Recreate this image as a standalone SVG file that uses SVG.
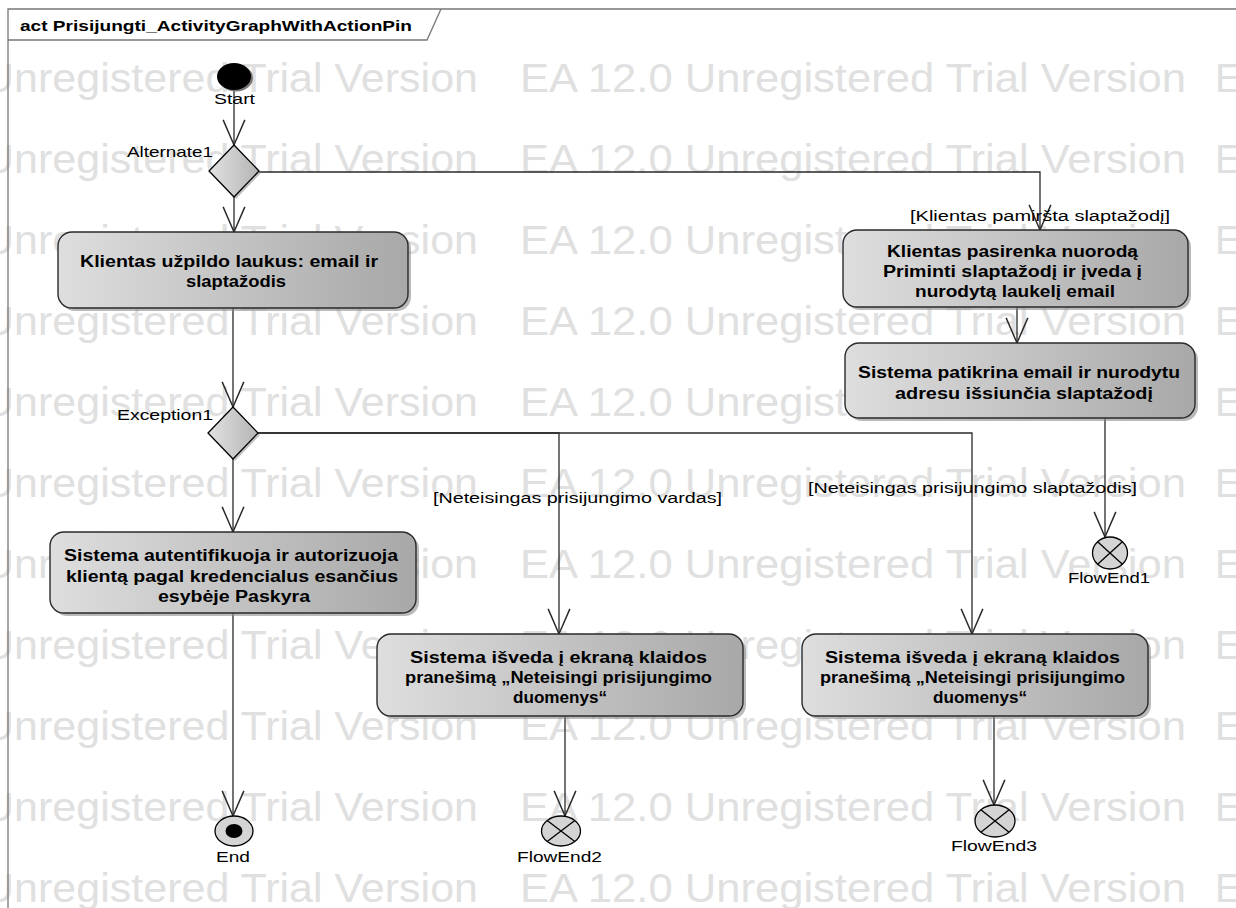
<svg xmlns="http://www.w3.org/2000/svg" width="1236" height="908" viewBox="0 0 1236 908">
<style>
.wm{font-family:"Liberation Sans",Arial,sans-serif;font-size:40px;fill:#e0e0e0}
.nt{font-family:"Liberation Sans",Arial,sans-serif;font-size:16px;font-weight:bold;fill:#000}
.lb{font-family:"Liberation Sans",Arial,sans-serif;font-size:14.5px;fill:#000}
.gd{font-family:"Liberation Sans",Arial,sans-serif;font-size:14px;fill:#000}
.box{fill:url(#g);stroke:#2a2a2a;stroke-width:1.4}
.sh{fill:#8c8c8c;opacity:0.6}
.dia{fill:url(#gd);stroke:#000;stroke-width:1.3}
.fe{fill:#d4d4d4;stroke:#000;stroke-width:1.3}
.cx{stroke:#000;stroke-width:1.3}
.cn{fill:none;stroke:#2a2a2a;stroke-width:1.3;marker-end:url(#ar)}
</style>
<defs>
<linearGradient id="g" x1="0" y1="0" x2="1" y2="0"><stop offset="0" stop-color="#dedede"/><stop offset="1" stop-color="#a8a8a8"/></linearGradient>
<linearGradient id="gd" x1="0" y1="0" x2="1" y2="0"><stop offset="0" stop-color="#e2e2e2"/><stop offset="1" stop-color="#b4b4b4"/></linearGradient>
<marker id="ar" markerUnits="userSpaceOnUse" markerWidth="40" markerHeight="40" refX="0" refY="0" orient="auto" viewBox="-30 -15 35 30" overflow="visible"><path d="M-22,-9.5 L0,0 L-22,9.5" fill="none" stroke="#2a2a2a" stroke-width="1.3"/></marker>
</defs>
<rect x="0" y="0" width="1236" height="908" fill="#fff"/>
<g id="watermark">
<text class="wm" x="-17" y="92" textLength="495" lengthAdjust="spacingAndGlyphs">Unregistered Trial Version</text><text class="wm" x="520" y="92" textLength="666" lengthAdjust="spacingAndGlyphs">EA 12.0 Unregistered Trial Version</text><text class="wm" x="1215" y="92">E</text>
<text class="wm" x="-17" y="173" textLength="495" lengthAdjust="spacingAndGlyphs">Unregistered Trial Version</text><text class="wm" x="520" y="173" textLength="666" lengthAdjust="spacingAndGlyphs">EA 12.0 Unregistered Trial Version</text><text class="wm" x="1215" y="173">E</text>
<text class="wm" x="-17" y="254" textLength="495" lengthAdjust="spacingAndGlyphs">Unregistered Trial Version</text><text class="wm" x="520" y="254" textLength="666" lengthAdjust="spacingAndGlyphs">EA 12.0 Unregistered Trial Version</text><text class="wm" x="1215" y="254">E</text>
<text class="wm" x="-17" y="335" textLength="495" lengthAdjust="spacingAndGlyphs">Unregistered Trial Version</text><text class="wm" x="520" y="335" textLength="666" lengthAdjust="spacingAndGlyphs">EA 12.0 Unregistered Trial Version</text><text class="wm" x="1215" y="335">E</text>
<text class="wm" x="-17" y="416" textLength="495" lengthAdjust="spacingAndGlyphs">Unregistered Trial Version</text><text class="wm" x="520" y="416" textLength="666" lengthAdjust="spacingAndGlyphs">EA 12.0 Unregistered Trial Version</text><text class="wm" x="1215" y="416">E</text>
<text class="wm" x="-17" y="497" textLength="495" lengthAdjust="spacingAndGlyphs">Unregistered Trial Version</text><text class="wm" x="520" y="497" textLength="666" lengthAdjust="spacingAndGlyphs">EA 12.0 Unregistered Trial Version</text><text class="wm" x="1215" y="497">E</text>
<text class="wm" x="-17" y="578" textLength="495" lengthAdjust="spacingAndGlyphs">Unregistered Trial Version</text><text class="wm" x="520" y="578" textLength="666" lengthAdjust="spacingAndGlyphs">EA 12.0 Unregistered Trial Version</text><text class="wm" x="1215" y="578">E</text>
<text class="wm" x="-17" y="659" textLength="495" lengthAdjust="spacingAndGlyphs">Unregistered Trial Version</text><text class="wm" x="520" y="659" textLength="666" lengthAdjust="spacingAndGlyphs">EA 12.0 Unregistered Trial Version</text><text class="wm" x="1215" y="659">E</text>
<text class="wm" x="-17" y="740" textLength="495" lengthAdjust="spacingAndGlyphs">Unregistered Trial Version</text><text class="wm" x="520" y="740" textLength="666" lengthAdjust="spacingAndGlyphs">EA 12.0 Unregistered Trial Version</text><text class="wm" x="1215" y="740">E</text>
<text class="wm" x="-17" y="821" textLength="495" lengthAdjust="spacingAndGlyphs">Unregistered Trial Version</text><text class="wm" x="520" y="821" textLength="666" lengthAdjust="spacingAndGlyphs">EA 12.0 Unregistered Trial Version</text><text class="wm" x="1215" y="821">E</text>
<text class="wm" x="-17" y="902" textLength="495" lengthAdjust="spacingAndGlyphs">Unregistered Trial Version</text><text class="wm" x="520" y="902" textLength="666" lengthAdjust="spacingAndGlyphs">EA 12.0 Unregistered Trial Version</text><text class="wm" x="1215" y="902">E</text>
</g>
<g id="frame">
<path d="M8,908 V9 H1236" fill="none" stroke="#777" stroke-width="1.3"/>
<path d="M8,40 H427 L441,9" fill="none" stroke="#777" stroke-width="1.3"/>
<text x="20" y="31" textLength="392" lengthAdjust="spacingAndGlyphs" style="font-family:'Liberation Sans',Arial,sans-serif;font-size:15px;font-weight:bold">act Prisijungti_ActivityGraphWithActionPin</text>
</g>
<g id="connectors">
<path class="cn" d="M234,90 V145"/>
<path class="cn" d="M234,197 V232"/>
<path class="cn" d="M259,172 H1040 V230"/>
<path class="cn" d="M233,308 V407"/>
<path class="cn" d="M233,459 V532"/>
<path class="cn" d="M257,433 H559 V634"/>
<path class="cn" d="M257,433 H972 V634"/>
<path class="cn" d="M233,613 V816"/>
<path class="cn" d="M565,716 V816"/>
<path class="cn" d="M994,716 V805"/>
<path class="cn" d="M1017,307 V343"/>
<path class="cn" d="M1105,418 V537"/>
<text class="gd" x="910" y="221" textLength="260" lengthAdjust="spacingAndGlyphs">[Klientas pamiršta slaptažodį]</text>
<text class="gd" x="433" y="503" textLength="289" lengthAdjust="spacingAndGlyphs">[Neteisingas prisijungimo vardas]</text>
<text class="gd" x="808" y="493" textLength="329" lengthAdjust="spacingAndGlyphs">[Neteisingas prisijungimo slaptažodis]</text>
</g>
<g id="start">
<ellipse cx="236" cy="78" rx="17" ry="13.5" fill="#777"/>
<ellipse cx="234" cy="76.5" rx="17" ry="13.5" fill="#000"/>
<text class="lb" x="214" y="104" textLength="41" lengthAdjust="spacingAndGlyphs">Start</text>
</g>
<g id="alternate1">
<polygon points="236,147 261,173 236,199 211,173" fill="#999" opacity="0.6"/>
<polygon class="dia" points="234,145 259,171 234,197 209,171"/>
<text class="lb" x="127" y="157" textLength="86" lengthAdjust="spacingAndGlyphs">Alternate1</text>
</g>
<g id="n1">
<rect class="sh" x="61" y="235" width="350" height="76" rx="14"/>
<rect class="box" x="58" y="232" width="350" height="76" rx="14"/>
<text class="nt" x="80" y="267" textLength="298" lengthAdjust="spacingAndGlyphs">Klientas užpildo laukus: email ir</text>
<text class="nt" x="186" y="287" textLength="100" lengthAdjust="spacingAndGlyphs">slaptažodis</text>
</g>
<g id="n2">
<rect class="sh" x="846" y="233" width="345" height="77" rx="14"/>
<rect class="box" x="843" y="230" width="345" height="77" rx="14"/>
<text class="nt" x="887" y="257" textLength="251" lengthAdjust="spacingAndGlyphs">Klientas pasirenka nuorodą</text>
<text class="nt" x="883" y="277" textLength="259" lengthAdjust="spacingAndGlyphs">Priminti slaptažodį ir įveda į</text>
<text class="nt" x="915" y="297" textLength="200" lengthAdjust="spacingAndGlyphs">nurodytą laukelį email</text>
</g>
<g id="n2b">
<rect class="sh" x="848" y="346" width="350" height="75" rx="14"/>
<rect class="box" x="845" y="343" width="350" height="75" rx="14"/>
<text class="nt" x="858" y="378" textLength="322" lengthAdjust="spacingAndGlyphs">Sistema patikrina email ir nurodytu</text>
<text class="nt" x="895" y="399" textLength="258" lengthAdjust="spacingAndGlyphs">adresu išsiunčia slaptažodį</text>
</g>
<g id="exception1">
<polygon points="235,409 260,435 235,461 210,435" fill="#999" opacity="0.6"/>
<polygon class="dia" points="233,407 258,433 233,459 208,433"/>
<text class="lb" x="117" y="420" textLength="96" lengthAdjust="spacingAndGlyphs">Exception1</text>
</g>
<g id="n3">
<rect class="sh" x="53" y="535" width="366" height="81" rx="14"/>
<rect class="box" x="50" y="532" width="366" height="81" rx="14"/>
<text class="nt" x="64" y="561" textLength="334" lengthAdjust="spacingAndGlyphs">Sistema autentifikuoja ir autorizuoja</text>
<text class="nt" x="66" y="582" textLength="332" lengthAdjust="spacingAndGlyphs">klientą pagal kredencialus esančius</text>
<text class="nt" x="158" y="602" textLength="152" lengthAdjust="spacingAndGlyphs">esybėje Paskyra</text>
</g>
<g id="n4">
<rect class="sh" x="380" y="637" width="366" height="82" rx="14"/>
<rect class="box" x="377" y="634" width="366" height="82" rx="14"/>
<text class="nt" x="410" y="663" textLength="297" lengthAdjust="spacingAndGlyphs">Sistema išveda į ekraną klaidos</text>
<text class="nt" x="405" y="683" textLength="307" lengthAdjust="spacingAndGlyphs">pranešimą „Neteisingi prisijungimo</text>
<text class="nt" x="513" y="703" textLength="94" lengthAdjust="spacingAndGlyphs">duomenys“</text>
</g>
<g id="n5">
<rect class="sh" x="805" y="637" width="346" height="82" rx="14"/>
<rect class="box" x="802" y="634" width="346" height="82" rx="14"/>
<text class="nt" x="825" y="663" textLength="295" lengthAdjust="spacingAndGlyphs">Sistema išveda į ekraną klaidos</text>
<text class="nt" x="820" y="683" textLength="305" lengthAdjust="spacingAndGlyphs">pranešimą „Neteisingi prisijungimo</text>
<text class="nt" x="933" y="703" textLength="94" lengthAdjust="spacingAndGlyphs">duomenys“</text>
</g>
<g id="flowend1">
<ellipse class="fe" cx="1110" cy="553" rx="17.5" ry="16"/>
<path class="cx" d="M1097.6,541.7 L1122.4,564.3 M1122.4,541.7 L1097.6,564.3"/>
<text class="lb" x="1068" y="583" textLength="82" lengthAdjust="spacingAndGlyphs">FlowEnd1</text>
</g>
<g id="end">
<ellipse class="fe" cx="234" cy="831" rx="19" ry="15"/>
<ellipse cx="234" cy="831" rx="8.5" ry="7" fill="#000"/>
<text class="lb" x="216" y="862" textLength="34" lengthAdjust="spacingAndGlyphs">End</text>
</g>
<g id="flowend2">
<ellipse class="fe" cx="561" cy="831" rx="19.5" ry="15"/>
<path class="cx" d="M547.2,820.4 L574.8,841.6 M574.8,820.4 L547.2,841.6"/>
<text class="lb" x="517" y="862" textLength="85" lengthAdjust="spacingAndGlyphs">FlowEnd2</text>
</g>
<g id="flowend3">
<ellipse class="fe" cx="995" cy="821" rx="20" ry="16"/>
<path class="cx" d="M980.9,809.7 L1009.1,832.3 M1009.1,809.7 L980.9,832.3"/>
<text class="lb" x="951" y="851" textLength="86" lengthAdjust="spacingAndGlyphs">FlowEnd3</text>
</g>
</svg>
